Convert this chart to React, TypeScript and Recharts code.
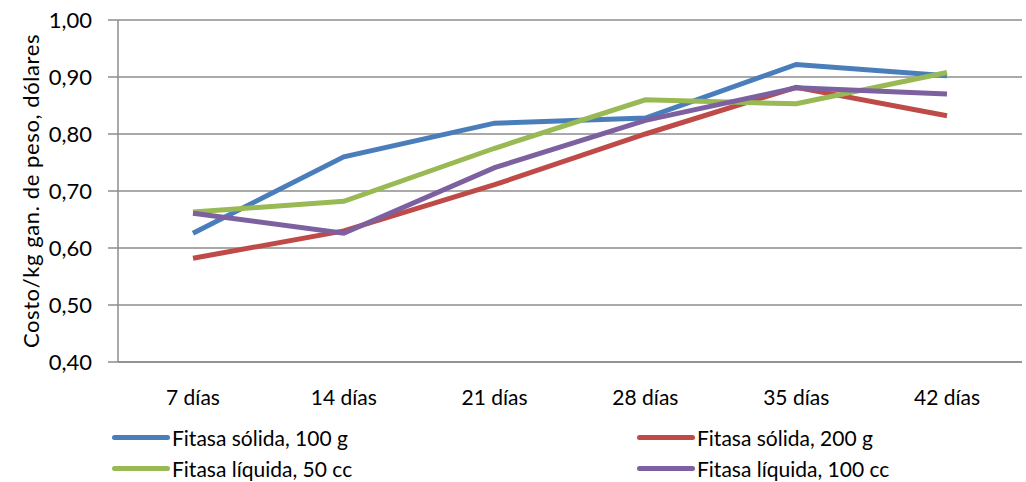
import React from 'react'
import { LineChart, Line, XAxis, YAxis, CartesianGrid, Legend } from 'recharts'

const dias = ['7 días', '14 días', '21 días', '28 días', '35 días', '42 días']
const solida100 = [0.626, 0.76, 0.819, 0.828, 0.922, 0.902]
const solida200 = [0.582, 0.63, 0.711, 0.8, 0.882, 0.832]
const liquida50 = [0.663, 0.682, 0.775, 0.86, 0.853, 0.908]
const liquida100 = [0.661, 0.626, 0.741, 0.824, 0.881, 0.87]
const yTicks = [0.4, 0.5, 0.6, 0.7, 0.8, 0.9, 1.0]

const series = [
  { key: 's100', name: 'Fitasa sólida, 100 g', color: '#4a7ebb' },
  { key: 's200', name: 'Fitasa sólida, 200 g', color: '#be4b48' },
  { key: 'l50', name: 'Fitasa líquida, 50 cc', color: '#98b954' },
  { key: 'l100', name: 'Fitasa líquida, 100 cc', color: '#7d60a0' },
]

const data = dias.map((d, i) => ({
  dia: d,
  s100: solida100[i],
  s200: solida200[i],
  l50: liquida50[i],
  l100: liquida100[i],
}))

const font = 'Lato, "Open Sans", sans-serif'

const legendPos = [
  { left: 112, top: 25 },
  { left: 637, top: 25 },
  { left: 112, top: 56 },
  { left: 637, top: 56 },
]

function MyLegend() {
  return (
    <div style={{ position: 'relative', width: 1026, height: 70, fontFamily: font, fontSize: 21, color: '#000' }}>
      {series.map((s, i) => (
        <div
          key={s.key}
          style={{
            position: 'absolute',
            left: legendPos[i].left,
            top: legendPos[i].top - 14,
            height: 28,
            display: 'flex',
            alignItems: 'center',
            whiteSpace: 'nowrap',
          }}
        >
          <span style={{ display: 'inline-block', width: 58, height: 5, borderRadius: 3, background: s.color, marginRight: 2 }} />
          {s.name}
        </div>
      ))}
    </div>
  )
}

function YLabel(props: any) {
  const vb = props.viewBox || { x: 0, y: 20, width: 118, height: 342 }
  const cx = vb.x + 30
  const cy = vb.y + vb.height / 2
  return (
    <text
      x={cx}
      y={cy}
      transform={`rotate(-90 ${cx} ${cy})`}
      textAnchor="middle"
      dominantBaseline="central"
      fill="#000"
      fontSize={22}
      letterSpacing={0.6}
      fontFamily={font}
    >
      Costo/kg gan. de peso, dólares
    </text>
  )
}

export default function App() {
  return (
    <div style={{ position: 'absolute', left: 0, top: 0, width: 1026, height: 482, background: '#fff' }}>
      <LineChart width={1026} height={482} data={data} margin={{ top: 20, right: 4, left: 0, bottom: 0 }}>
        <CartesianGrid vertical={false} stroke="#8c8c8c" strokeWidth={1.5} />
        <XAxis
          dataKey="dia"
          height={50}
          padding={{ left: 75, right: 75 }}
          tickLine={false}
          stroke="#8c8c8c"
          strokeWidth={1.5}
          tickMargin={22}
          tick={{ fill: '#000', fontSize: 21, fontFamily: font }}
        />
        <YAxis
          width={118}
          domain={[0.4, 1.0]}
          ticks={yTicks}
          interval={0}
          tickFormatter={(v: number) => v.toFixed(2).replace('.', ',')}
          stroke="#8c8c8c"
          strokeWidth={1.5}
          tickSize={10}
          tickMargin={16}
          tick={{ fill: '#000', fontSize: 22, fontFamily: font }}
          label={<YLabel />}
        />
        <Legend verticalAlign="bottom" height={70} content={() => <MyLegend />} wrapperStyle={{ left: 0, width: 1026 }} />
        {series.map((s) => (
          <Line
            key={s.key}
            type="linear"
            dataKey={s.key}
            name={s.name}
            stroke={s.color}
            strokeWidth={5}
            dot={false}
            isAnimationActive={false}
          />
        ))}
      </LineChart>
    </div>
  )
}
